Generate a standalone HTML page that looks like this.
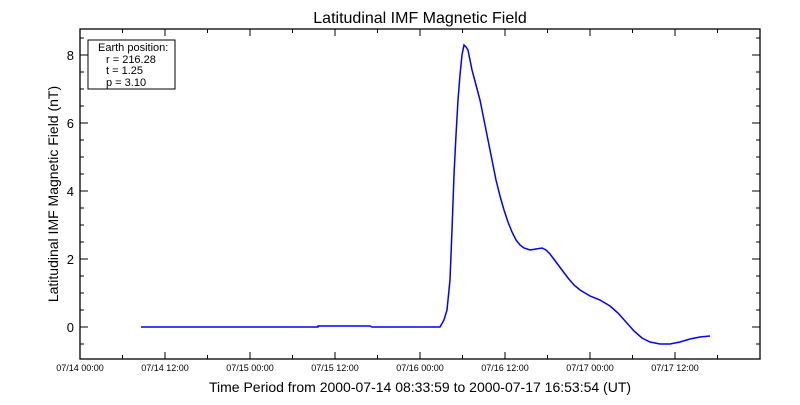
<!DOCTYPE html>
<html><head><style>body{margin:0;background:#fff}</style></head><body>
<svg width="800" height="400" xmlns="http://www.w3.org/2000/svg" font-family="Liberation Sans, sans-serif">
<rect width="800" height="400" fill="#fff"/>
<text x="420" y="23" font-size="16" text-anchor="middle">Latitudinal IMF Magnetic Field</text>
<rect x="80" y="29" width="680" height="330" fill="none" stroke="#000" stroke-width="1.3"/>
<g stroke="#000" stroke-width="1">
<path d="M80,359v-7M165,359v-7M250,359v-7M335,359v-7M420,359v-7M505,359v-7M590,359v-7M675,359v-7M122.5,359v-4M207.5,359v-4M292.5,359v-4M377.5,359v-4M462.5,359v-4M547.5,359v-4M632.5,359v-4M717.5,359v-4
M80,29v7M165,29v7M250,29v7M335,29v7M420,29v7M505,29v7M590,29v7M675,29v7M122.5,29v4M207.5,29v4M292.5,29v4M377.5,29v4M462.5,29v4M547.5,29v4M632.5,29v4M717.5,29v4
M80,327h8M80,259h8M80,191h8M80,123h8M80,55h8M760,327h-8M760,259h-8M760,191h-8M760,123h-8M760,55h-8
M80,344h4M80,310h4M80,293h4M80,276h4M80,242h4M80,225h4M80,208h4M80,174h4M80,157h4M80,140h4M80,106h4M80,89h4M80,72h4M80,38h4
M760,344h-4M760,310h-4M760,293h-4M760,276h-4M760,242h-4M760,225h-4M760,208h-4M760,174h-4M760,157h-4M760,140h-4M760,106h-4M760,89h-4M760,72h-4M760,38h-4"/>
</g>
<g font-size="13" text-anchor="end">
<text x="74" y="332">0</text><text x="74" y="264">2</text><text x="74" y="196">4</text><text x="74" y="128">6</text><text x="74" y="60">8</text>
</g>
<g font-size="9" text-anchor="middle">
<text x="80" y="371">07/14 00:00</text><text x="165" y="371">07/14 12:00</text><text x="250" y="371">07/15 00:00</text><text x="335" y="371">07/15 12:00</text><text x="420" y="371">07/16 00:00</text><text x="505" y="371">07/16 12:00</text><text x="590" y="371">07/17 00:00</text><text x="675" y="371">07/17 12:00</text>
</g>
<text x="420" y="392" font-size="14" text-anchor="middle">Time Period from 2000-07-14 08:33:59 to 2000-07-17 16:53:54 (UT)</text>
<text transform="translate(58,194) rotate(-90)" font-size="14" text-anchor="middle">Latitudinal IMF Magnetic Field (nT)</text>
<rect x="88" y="40" width="87" height="49" fill="#fff" stroke="#000"/>
<g font-size="11"><text x="98" y="51">Earth position:</text><text x="106" y="63">r = 216.28</text><text x="106" y="74">t = 1.25</text><text x="106" y="86">p = 3.10</text></g>
<polyline fill="none" stroke="#0000ff" stroke-width="1.5" points="141,327 318,327 318,326 370,326 372,327 440,327 444,320 447,310 450,280 452,230 454,175 456,135 458,100 460,75 462,55 464,45 466,47 468,50 472,70 476,85 480,100 484,120 488,140 492,160 496,180 500,196 504,210 508,222 512,232 516,240 520,245 524,248 530,250 536,249 542,248 546,250 550,254 556,262 562,270 568,278 574,285 580,290 590,296 600,300 610,306 618,313 626,322 634,331 642,338 650,342 660,344 670,344 680,342 690,339 700,337 710,336"/>
</svg>
</body></html>
